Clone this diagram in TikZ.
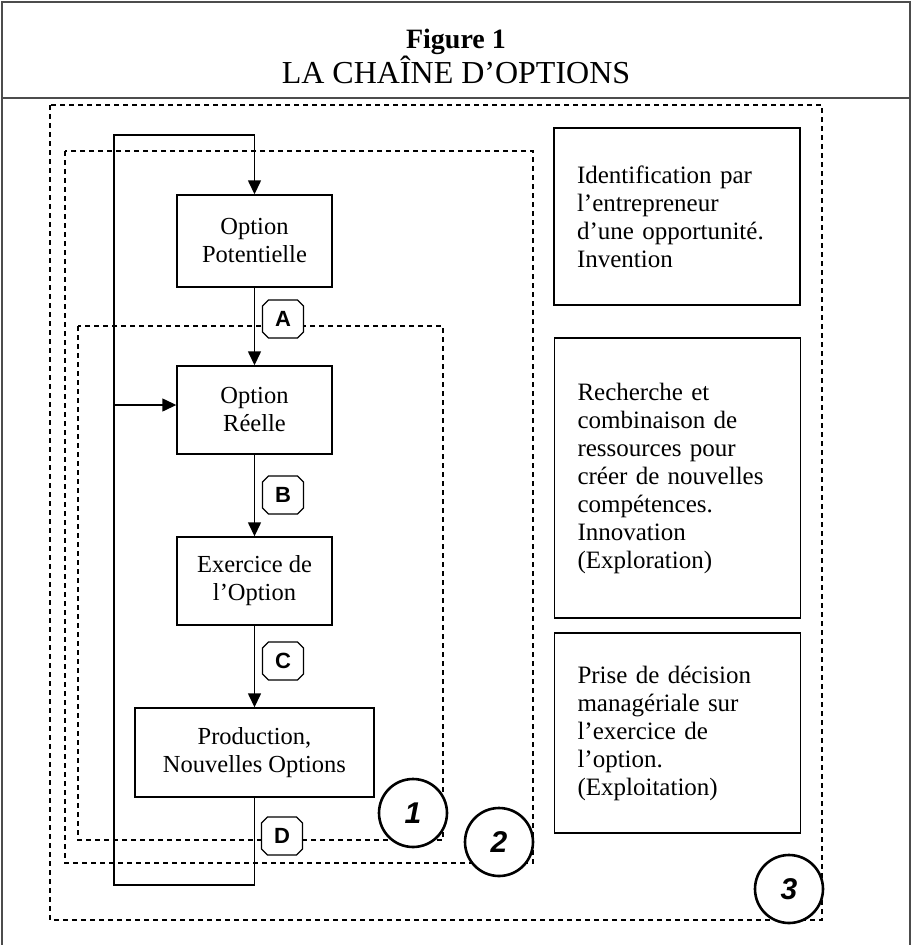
\documentclass[tikz,border=0pt]{standalone}
\usepackage{fontspec}
\setmainfont{Liberation Serif}
\setsansfont{Liberation Sans}
\usetikzlibrary{arrows.meta,shapes.misc}
\begin{document}
\begin{tikzpicture}[x=1pt,y=-1pt,
 frame/.style={draw=black!70,line width=1.5pt},
 box/.style={draw,line width=1.4pt,minimum width=155pt,align=center,font=\fontsize{24.5}{28}\selectfont,inner sep=0pt},
 desc/.style={draw,line width=1.4pt,minimum width=246pt,text width=200pt,align=left,font=\fontsize{25}{28}\selectfont,inner xsep=23pt,inner ysep=0pt},
 dbox/.style={draw,dash pattern=on 5pt off 4pt,line width=1.1pt},
 lab/.style={draw,chamfered rectangle,chamfered rectangle xsep=3pt,chamfered rectangle ysep=3pt,line width=1.3pt,minimum width=41pt,minimum height=38pt,inner sep=0pt,font=\sffamily\bfseries\fontsize{22}{22}\selectfont},
 num/.style={draw,circle,line width=2.6pt,minimum size=68pt,inner sep=0pt,font=\sffamily\bfseries\itshape\fontsize{30}{30}\selectfont},
 arr/.style={line width=1.4pt,-{Triangle[length=14pt,width=13pt]}},
 ln/.style={line width=1.4pt}]
\useasboundingbox (0,0) rectangle (912,945);
% frame
\draw[frame] (2,945) -- (2,2) -- (910,2) -- (910,945);
\draw[frame] (2,98) -- (910,98);
\node[font=\bfseries\fontsize{28}{30}\selectfont] (fig) at (456,42) {Figure 1};
\node[font=\fontsize{32}{34}\selectfont] (title) at (456,70) {LA CHAÎNE D’OPTIONS};
% dashed regions
\draw[dbox] (50,105) rectangle (822,920);
\draw[dbox] (65,151) rectangle (533,863);
\draw[dbox] (78,326) rectangle (443,840);
% main boxes
\node[box,minimum height=92pt] (pot) at (254.5,241) {Option\\Potentielle};
\node[box,minimum height=88pt] (reel) at (254.5,410) {Option\\Réelle};
\node[box,minimum height=88pt] (exer) at (254.5,581) {Exercice de\\l’Option};
\node[box,minimum width=239pt,minimum height=89pt] (prod) at (254.5,752.5) {Production,\\Nouvelles Options};
% description boxes
\node[desc,minimum height=177pt] (d1) at (677,216.5) {Identification par\\l’entrepreneur\\d’une opportunité.\\Invention};
\node[desc,minimum height=280pt] (d2) at (677.5,478) {Recherche et\\combinaison de\\ressources pour\\créer de nouvelles\\compétences.\\Innovation\\(Exploration)};
\node[desc,minimum height=200pt] (d3) at (677.5,733) {Prise de décision\\managériale sur\\l’exercice de\\l’option.\\(Exploitation)};
% connectors
\draw[arr] (pot) -- (reel);
\draw[arr] (reel) -- (exer);
\draw[arr] (exer) -- (prod);
\coordinate (fbb) at (254.5,885);
\coordinate (fbbl) at (114,885);
\coordinate (fbtl) at (114,135);
\coordinate (fbt) at (254.5,135);
\draw[ln] (prod.south) -- (fbb) -- (fbbl) -- (fbtl) -- (fbt);
\draw[arr] (fbt) -- (pot.north);
\coordinate (br) at (114,405);
\draw[arr] (br) -- (br -| reel.west);
% labels
\node[lab,fill=white] (la) at (283,319) {A};
\node[lab,fill=white] (lb) at (283,495) {B};
\node[lab,fill=white] (lc) at (283,661) {C};
\node[lab,fill=white] (ld) at (282,836) {D};
% numbered circles
\node[num,fill=white] (n1) at (413,813) {1};
\node[num,fill=white] (n2) at (499,842) {2};
\node[num,fill=white] (n3) at (789,889) {3};
\end{tikzpicture}
\end{document}
